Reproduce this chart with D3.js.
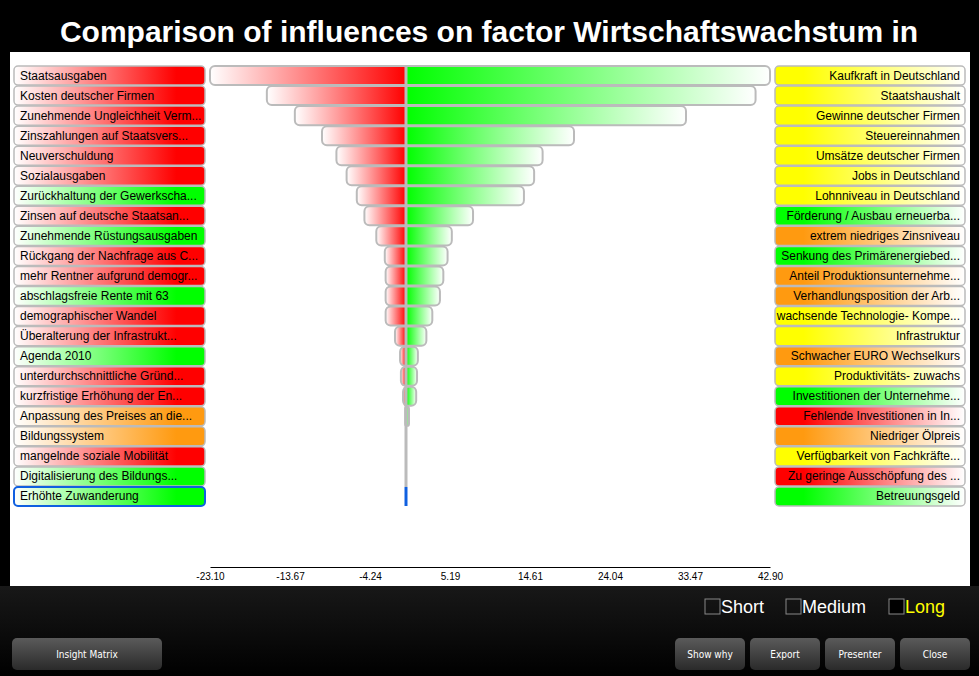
<!DOCTYPE html>
<html><head><meta charset="utf-8">
<script src="https://cdn.jsdelivr.net/npm/d3@7"></script>
<style>
html,body{margin:0;padding:0;background:#000;}
svg{display:block;}
</style></head>
<body>
<svg id="chart" width="979" height="676"></svg>
<script>
const title = "Comparison of influences on factor Wirtschaftswachstum in";
const leftLabels = ["Staatsausgaben","Kosten deutscher Firmen","Zunehmende Ungleichheit Verm...","Zinszahlungen auf Staatsvers...","Neuverschuldung","Sozialausgaben","Zurückhaltung der Gewerkscha...","Zinsen auf deutsche Staatsan...","Zunehmende Rüstungsausgaben","Rückgang der Nachfrage aus C...","mehr Rentner aufgrund demogr...","abschlagsfreie Rente mit 63","demographischer Wandel","Überalterung der Infrastrukt...","Agenda 2010","unterdurchschnittliche Gründ...","kurzfristige Erhöhung der En...","Anpassung des Preises an die...","Bildungssystem","mangelnde soziale Mobilität","Digitalisierung des Bildungs...","Erhöhte Zuwanderung"];
const leftColors = ["red","red","red","red","red","red","green","red","green","red","red","green","red","red","green","red","red","orange","orange","red","green","green"];
const rightLabels = ["Kaufkraft in Deutschland","Staatshaushalt","Gewinne deutscher Firmen","Steuereinnahmen","Umsätze deutscher Firmen","Jobs in Deutschland","Lohnniveau in Deutschland","Förderung / Ausbau erneuerba...","extrem niedriges Zinsniveau","Senkung des Primärenergiebed...","Anteil Produktionsunternehme...","Verhandlungsposition der Arb...","wachsende Technologie- Kompe...","Infrastruktur","Schwacher EURO Wechselkurs","Produktivitäts- zuwachs","Investitionen der Unternehme...","Fehlende Investitionen in In...","Niedriger Ölpreis","Verfügbarkeit von Fachkräfte...","Zu geringe Ausschöpfung des ...","Betreuungsgeld"];
const rightColors = ["yellow","yellow","yellow","yellow","yellow","yellow","yellow","green","orange","green","orange","orange","yellow","yellow","orange","yellow","green","red","orange","yellow","red","green"];
const negValues = [-23.10,-16.4,-13.1,-9.9,-8.2,-7.0,-5.8,-4.9,-3.5,-2.5,-2.4,-2.4,-2.4,-1.3,-0.7,-0.6,-0.35,-0.1,0,0,0,0];
const posValues = [42.90,41.2,33.0,19.8,16.1,15.1,13.9,7.9,5.4,4.9,4.4,4.0,3.1,2.4,1.4,1.3,1.2,0.35,0,0,0,0];
const tickValues = [-23.10,-13.67,-4.24,5.19,14.61,24.04,33.47,42.90];
const checkLabels = ["Short","Medium","Long"];
const buttonLabels = ["Insight Matrix","Show why","Export","Presenter","Close"];

const colorMap = {red:"#ff0000", green:"#00ff00", orange:"#ff9a10", yellow:"#ffff00"};
const font = "'Liberation Sans', Arial, Helvetica, sans-serif";
const svg = d3.select("#chart");
const defs = svg.append("defs");

// backgrounds
const bgGrad = defs.append("linearGradient").attr("id","bgBottom").attr("x1",0).attr("y1",0).attr("x2",0).attr("y2",1);
bgGrad.append("stop").attr("offset",0).attr("stop-color","#181818");
bgGrad.append("stop").attr("offset",1).attr("stop-color","#000");
svg.append("rect").attr("x",0).attr("y",0).attr("width",979).attr("height",676).attr("fill","#000");
svg.append("rect").attr("x",0).attr("y",586).attr("width",979).attr("height",90).attr("fill","url(#bgBottom)");
svg.append("rect").attr("x",10).attr("y",52).attr("width",960).attr("height",534).attr("fill","#fff");

svg.append("text").attr("x",489).attr("y",42).attr("text-anchor","middle")
  .attr("font-family",font).attr("font-weight","bold").attr("font-size",30).attr("fill","#fff").text(title);

// gradients
Object.entries(colorMap).forEach(([k,c])=>{
  const gl = defs.append("linearGradient").attr("id","lab-l-"+k);
  gl.append("stop").attr("offset",0).attr("stop-color","#fff");
  gl.append("stop").attr("offset",0.85).attr("stop-color",c);
  gl.append("stop").attr("offset",1).attr("stop-color",c);
  const gr = defs.append("linearGradient").attr("id","lab-r-"+k);
  gr.append("stop").attr("offset",0).attr("stop-color",c);
  gr.append("stop").attr("offset",0.15).attr("stop-color",c);
  gr.append("stop").attr("offset",1).attr("stop-color","#fff");
});
const gNeg = defs.append("linearGradient").attr("id","negGrad");
gNeg.append("stop").attr("offset",0).attr("stop-color","#fff");
gNeg.append("stop").attr("offset",1).attr("stop-color","#ff0000");
const gPos = defs.append("linearGradient").attr("id","posGrad");
gPos.append("stop").attr("offset",0).attr("stop-color","#00ff00");
gPos.append("stop").attr("offset",1).attr("stop-color","#fff");

const rowsIdx = d3.range(leftLabels.length);
const y = d3.scaleBand().domain(rowsIdx).range([66, 66 + 20*leftLabels.length]).paddingInner(0.05).paddingOuter(0);
const x = d3.scaleLinear().domain([tickValues[0], tickValues[tickValues.length-1]]).range([210, 770]);
const bh = y.bandwidth();

// left labels
const lg = svg.append("g");
rowsIdx.forEach(i=>{
  lg.append("rect").attr("x",14).attr("y",y(i)).attr("width",191).attr("height",bh).attr("rx",4)
    .attr("fill",`url(#lab-l-${leftColors[i]})`)
    .attr("stroke", i===leftLabels.length-1 ? "#1060e0" : "#bbb").attr("stroke-width", i===leftLabels.length-1 ? 2 : 1.5);
  lg.append("text").attr("x",20).attr("y",y(i)+bh/2+4).attr("font-family",font).attr("font-size",12).attr("fill","#000").text(leftLabels[i]);
});
// right labels
const rg = svg.append("g");
rowsIdx.forEach(i=>{
  rg.append("rect").attr("x",775).attr("y",y(i)).attr("width",190).attr("height",bh).attr("rx",4)
    .attr("fill",`url(#lab-r-${rightColors[i]})`).attr("stroke","#bbb").attr("stroke-width",1.5);
  rg.append("text").attr("x",960).attr("y",y(i)+bh/2+4).attr("text-anchor","end").attr("font-family",font).attr("font-size",12).attr("fill","#000").text(rightLabels[i]);
});

// bars
function leftPath(x0,x1,y0,h,r){
  r=Math.min(r,(x1-x0)/2,h/2);
  return `M${x1},${y0}H${x0+r}Q${x0},${y0} ${x0},${y0+r}V${y0+h-r}Q${x0},${y0+h} ${x0+r},${y0+h}H${x1}Z`;
}
function rightPath(x0,x1,y0,h,r){
  r=Math.min(r,(x1-x0)/2,h/2);
  return `M${x0},${y0}H${x1-r}Q${x1},${y0} ${x1},${y0+r}V${y0+h-r}Q${x1},${y0+h} ${x1-r},${y0+h}H${x0}Z`;
}
const bg = svg.append("g");
const x0 = x(0);
rowsIdx.forEach(i=>{
  const xn = x(negValues[i]), xp = x(posValues[i]);
  const yy = y(i);
  if (x0 - xn > 0.5) bg.append("path").attr("d",leftPath(xn,x0,yy,bh,5)).attr("fill","url(#negGrad)");
  if (xp - x0 > 0.5) bg.append("path").attr("d",rightPath(x0,xp,yy,bh,5)).attr("fill","url(#posGrad)");
  if (xp - xn > 1) bg.append("rect").attr("x",xn).attr("y",yy).attr("width",xp-xn).attr("height",bh)
    .attr("rx",Math.min(5,(xp-xn)/2)).attr("fill","none").attr("stroke","#bbb").attr("stroke-width",2);
});
bg.append("line").attr("x1",x0).attr("x2",x0).attr("y1",y(0)).attr("y2",y(rowsIdx.length-1)).attr("stroke","#bbb").attr("stroke-width",3);
const last = rowsIdx.length-1;
bg.append("line").attr("x1",x0).attr("x2",x0).attr("y1",y(last)).attr("y2",y(last)+bh).attr("stroke","#1060e0").attr("stroke-width",3);

// axis
const axis = d3.axisBottom(x).tickValues(tickValues).tickSize(0).tickPadding(6).tickFormat(d => d.toFixed(2));
const ag = svg.append("g").attr("transform","translate(0,567)").call(axis);
ag.select(".domain").attr("stroke","#000").attr("stroke-width",1);
ag.selectAll("text").attr("font-family",font).attr("font-size",10).attr("fill","#000");

// checkboxes
const checkX = [705, 786, 889];
checkLabels.forEach((t,i)=>{
  svg.append("rect").attr("x",checkX[i]).attr("y",599).attr("width",15).attr("height",15)
    .attr("fill", i===2 ? "#000" : "none").attr("stroke","#888").attr("stroke-width",1);
  svg.append("text").attr("x",checkX[i]+16).attr("y",613).attr("font-family",font).attr("font-size",18)
    .attr("fill", i===2 ? "#ffff00" : "#fff").text(t);
});

// buttons
const btnGrad = defs.append("linearGradient").attr("id","btnGrad").attr("x1",0).attr("y1",0).attr("x2",0).attr("y2",1);
btnGrad.append("stop").attr("offset",0).attr("stop-color","#5a5a5a");
btnGrad.append("stop").attr("offset",1).attr("stop-color","#2a2a2a");
const btnX = [12, 675, 750, 825, 900];
const btnW = [150, 70, 70, 70, 70];
buttonLabels.forEach((t,i)=>{
  svg.append("rect").attr("x",btnX[i]).attr("y",638).attr("width",btnW[i]).attr("height",32).attr("rx",5)
    .attr("fill","url(#btnGrad)");
  svg.append("text").attr("x",btnX[i]+btnW[i]/2).attr("y",658).attr("text-anchor","middle")
    .attr("font-family","'DejaVu Sans Condensed', 'Liberation Sans Narrow', "+font).attr("font-size",10).attr("fill","#fff").text(t);
});
</script>
</body></html>
